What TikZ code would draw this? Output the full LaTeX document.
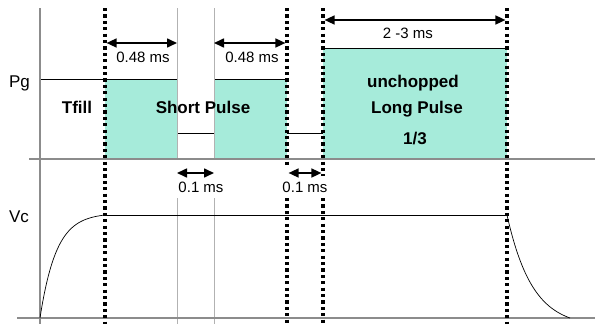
\documentclass[tikz,border=0pt]{standalone}
\usepackage{fontspec}
\setmainfont{Liberation Sans}
\usetikzlibrary{arrows.meta}
\definecolor{pulse}{HTML}{A6EBDA}
\definecolor{axisgray}{HTML}{8C8C8C}
\begin{document}
\begin{tikzpicture}[x=1pt,y=-1pt,
  lbl/.style={font=\fontsize{15}{15}\selectfont, anchor=base, inner sep=0pt},
  blbl/.style={font=\fontsize{17}{17}\selectfont\bfseries, anchor=base, inner sep=0pt},
  axlbl/.style={font=\fontsize{17}{17}\selectfont, anchor=base, inner sep=0pt},
  dots/.style={line width=3.2pt, dash pattern=on 3.2pt off 3.2pt},
  thingray/.style={line width=0.4pt, draw=gray!60},
  dim/.style={line width=1.6pt, {Triangle[length=10pt,width=9pt]}-{Triangle[length=10pt,width=9pt]}},
  pulsebox/.style={fill=pulse, draw=none},
  axis/.style={line width=1.2pt, draw=axisgray}]
\useasboundingbox (0,0) rectangle (595,324);
% pulses
\fill[pulsebox] (105,79) rectangle (177,159);
\fill[pulsebox] (214,79) rectangle (287,159);
\fill[pulsebox] (323,48) rectangle (507,159);
% Pg waveform
\draw[line width=0.8pt] (40,79) -- (177,79);
\draw[line width=0.8pt] (214,79) -- (287,79);
\draw[line width=0.8pt] (177,133) -- (214,133);
\draw[line width=0.8pt] (287,133) -- (323,133);
\draw[line width=0.8pt] (323,48) -- (507,48);
% thin gray markers
\draw[thingray] (177,8) -- (177,159) (177,198) -- (177,324);
\draw[thingray] (214,8) -- (214,159) (214,198) -- (214,324);
% axes
\draw[axis] (40,8) -- (40,324);
\draw[axis] (29,159) -- (595,159);
\draw[axis] (17,318) -- (595,318);
% Vc waveform
\draw[line width=0.8pt] (105,215) -- (507,215);
\draw[line width=0.7pt] plot[domain=0:1,samples=60,smooth] ({40+65*\x},{318-103*(1-exp(-4*\x))/(1-exp(-4))});
\draw[line width=0.7pt] plot[domain=0:1,samples=60,smooth] ({507+63*\x},{215+103*(1-exp(-2.5*\x))/(1-exp(-2.5))});
% dotted verticals
\draw[dots] (105,8) -- (105,324);
\draw[dots] (287,8) -- (287,166) (287,198) -- (287,324);
\draw[dots] (323,8) -- (323,176) (323,198) -- (323,324);
\draw[dots] (507,8) -- (507,324);
% dimension arrows
\coordinate (a1l) at (106.6,43); \coordinate (a1r) at (177,43);
\coordinate (a2l) at (214,43); \coordinate (a2r) at (285.4,43);
\coordinate (a3l) at (324.6,20); \coordinate (a3r) at (505.4,20);
\coordinate (a4l) at (177,173); \coordinate (a4r) at (214,173);
\coordinate (a5l) at (288.6,173); \coordinate (a5r) at (321.4,173);
\draw[dim] (a1l) -- (a1r);
\draw[dim] (a2l) -- (a2r);
\draw[dim] (a3l) -- (a3r);
\draw[dim] (a4l) -- (a4r);
\draw[dim] (a5l) -- (a5r);
% labels
\node[lbl] (t1) at (143,62) {0.48 ms};
\node[lbl] (t2) at (252,62) {0.48 ms};
\node[lbl] (t3) at (408,38) {2 -3 ms};
\node[lbl] (t4) at (201,192) {0.1 ms};
\node[lbl] (t5) at (305,192) {0.1 ms};
\node[axlbl] (pg) at (19.5,87) {Pg};
\node[axlbl] (vc) at (19,222) {Vc};
\node[blbl] (tf) at (77,113) {Tfill};
\node[blbl] (sp) at (203,113) {Short Pulse};
\node[blbl] (lp1) at (413,87) {unchopped};
\node[blbl] (lp2) at (417,113) {Long Pulse};
\node[blbl] (lp3) at (415,144) {1/3};
\end{tikzpicture}
\end{document}
